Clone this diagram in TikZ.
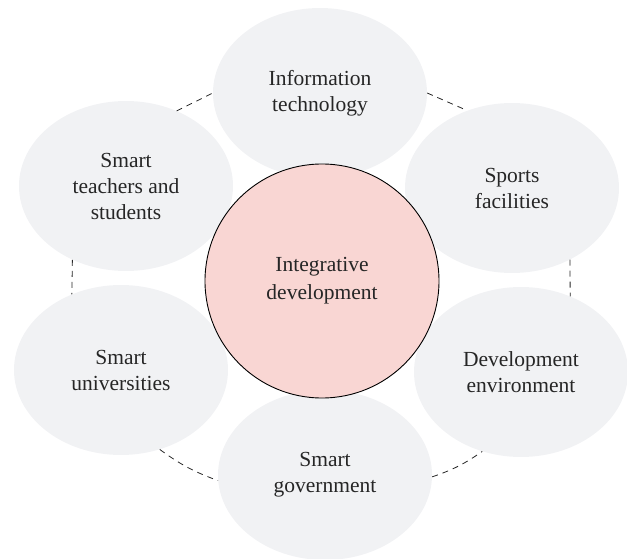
\documentclass[tikz,border=0pt]{standalone}
\usepackage{fontspec}
\setmainfont{Liberation Serif}
\usetikzlibrary{shapes.geometric}
\definecolor{petalgray}{HTML}{F1F2F4}
\definecolor{corepink}{HTML}{F9D6D3}
\begin{document}
\begin{tikzpicture}[x=1pt,y=-1pt]
\tikzset{
  petal/.style={ellipse, fill=petalgray, minimum width=214pt, minimum height=170pt,
    inner sep=0pt, align=center, font=\fontsize{21.5}{26}\selectfont, text=black!85},
  core/.style={circle, draw=black, line width=0.9pt, fill=corepink, minimum size=234pt,
    inner sep=0pt, align=center, font=\fontsize{21.5}{28}\selectfont, text=black!85},
  link/.style={dashed, dash pattern=on 6pt off 5pt, line width=0.8pt, black!85}
}
\useasboundingbox (0,0) rectangle (627,559);
% outer ring of themes
\node[petal] (info) at (320,93) {Information\\technology};
\node[petal] (people) at (126,186) {Smart\\teachers and\\students};
\node[petal] (sports) at (512,188) {Sports\\facilities};
\node[petal] (univ) at (121,370) {Smart\\universities};
\node[petal] (env) at (521,372) {Development\\environment};
\node[petal] (gov) at (325,475) {Smart\\government};
% central theme
\node[core] (core) at (322,281) {Integrative\\development};
% dashed ring linking neighbouring themes
\draw[link] (people.56) -- (info.180);
\draw[link] (info.0) -- (sports.120);
\draw[link] (people.234) -- (univ.123);
\draw[link] (sports.309) -- (env.57);
\draw[link] (univ.296) to[bend right=8] (gov.183);
\draw[link] (gov.359) to[bend right=8] (env.244);
\end{tikzpicture}
\end{document}
